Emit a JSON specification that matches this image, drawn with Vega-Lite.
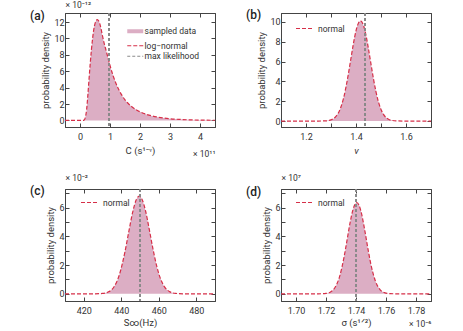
{
  "$schema": "https://vega.github.io/schema/vega-lite/v6.json",
  "background": "white",
  "padding": {"left": 29, "top": 0, "right": 0, "bottom": 0},
  "columns": 2,
  "spacing": {"row": 62, "column": 66},
  "bounds": "flush",
  "resolve": {"scale": {"color": "independent"}, "legend": {"color": "independent"}},
  "config": {
    "font": "Roboto",
    "view": {"stroke": "#444", "strokeWidth": 1},
    "axis": {"grid": false, "domainColor": "#444", "tickColor": "#444", "tickSize": -4, "labelFontSize": 9, "labelColor": "#333", "titleFontSize": 9.5, "titleFontWeight": "normal", "titleColor": "#333", "labelPadding": 9},
    "title": {"anchor": "start", "fontSize": 12, "fontWeight": 500, "color": "#222", "frame": "group"}
  },
  "concat": [
    {
      "width": 150, "height": 114,
      "title": {"text": "(a)", "dx": -35, "dy": 26},
      "data": {"values": [
        {"x": -0.5, "y": 0}, {"x": 0, "y": 0}, {"x": 0.1, "y": 0}, {"x": 0.14, "y": 0.05}, {"x": 0.18, "y": 0.4},
        {"x": 0.22, "y": 1.3}, {"x": 0.26, "y": 3.0}, {"x": 0.30, "y": 5.0}, {"x": 0.34, "y": 6.9}, {"x": 0.38, "y": 8.6},
        {"x": 0.42, "y": 10.0}, {"x": 0.46, "y": 11.1}, {"x": 0.50, "y": 11.8}, {"x": 0.54, "y": 12.2}, {"x": 0.58, "y": 12.3},
        {"x": 0.62, "y": 12.15}, {"x": 0.66, "y": 11.8}, {"x": 0.70, "y": 11.2}, {"x": 0.75, "y": 10.3}, {"x": 0.80, "y": 9.5},
        {"x": 0.85, "y": 8.8}, {"x": 0.90, "y": 8.1}, {"x": 0.95, "y": 7.4}, {"x": 1.0, "y": 6.7}, {"x": 1.1, "y": 5.5},
        {"x": 1.2, "y": 4.5}, {"x": 1.3, "y": 3.7}, {"x": 1.4, "y": 3.05}, {"x": 1.5, "y": 2.5}, {"x": 1.6, "y": 2.1},
        {"x": 1.7, "y": 1.75}, {"x": 1.85, "y": 1.35}, {"x": 2.0, "y": 1.05}, {"x": 2.2, "y": 0.76}, {"x": 2.4, "y": 0.55},
        {"x": 2.6, "y": 0.4}, {"x": 2.8, "y": 0.29}, {"x": 3.0, "y": 0.21}, {"x": 3.3, "y": 0.13}, {"x": 3.6, "y": 0.08},
        {"x": 4.0, "y": 0.04}, {"x": 4.5, "y": 0.02}
      ]},
      "layer": [
        {
          "mark": {"type": "area", "interpolate": "monotone"},
          "encoding": {
            "x": {"field": "x", "type": "quantitative", "scale": {"domain": [-0.5, 4.5], "nice": false, "zero": false},
                  "axis": {"orient": "bottom", "values": [0, 1, 2, 3, 4], "title": "C (s¹⁻ᵛ)", "titlePadding": 4}},
            "y": {"field": "y", "type": "quantitative", "scale": {"domain": [-0.8, 13.1], "nice": false, "zero": false},
                  "axis": {"orient": "left", "values": [0, 2, 4, 6, 8, 10, 12], "title": "probability density", "titlePadding": 3, "labelPadding": 5}},
            "color": {"datum": "sampled data",
                      "scale": {"domain": ["sampled data", "log−normal", "max likelihood"], "range": ["#dcaec4", "#d62f48", "#8a8a8a"]},
                      "legend": {"title": null, "orient": "none", "legendX": 66, "legendY": 14, "symbolType": "stroke", "symbolSize": 256,
                                 "symbolStrokeWidth": {"expr": "datum.value === 'sampled data' ? 4 : 1.1"},
                                 "symbolDash": {"expr": "datum.value === 'sampled data' ? [1, 0] : (datum.value === 'max likelihood' ? [3, 2] : [4, 2])"},
                                 "symbolStrokeColor": {"expr": "datum.value === 'sampled data' ? '#e2b5ca' : (datum.value === 'max likelihood' ? '#666666' : '#d62f48')"},
                                 "labelFontSize": 8.5, "labelOffset": 5, "rowPadding": 1.5, "padding": 0, "labelColor": "#333"}}
          }
        },
        {
          "mark": {"type": "line", "interpolate": "monotone", "strokeDash": [4, 2], "strokeWidth": 1.2},
          "encoding": {
            "x": {"field": "x", "type": "quantitative", "scale": {"domain": [-0.5, 4.5], "nice": false, "zero": false},
                  "axis": {"orient": "top", "labels": false, "values": [0, 1, 2, 3, 4], "title": "× 10⁻¹²", "titleAnchor": "start", "titleAlign": "left", "titlePadding": 3, "titleFontSize": 8.5}},
            "y": {"field": "y", "type": "quantitative", "scale": {"domain": [-0.8, 13.1], "nice": false, "zero": false},
                  "axis": {"orient": "right", "labels": false, "values": [0, 2, 4, 6, 8, 10, 12], "title": "× 10¹¹", "titleAngle": 0, "titleAlign": "right", "titleBaseline": "middle", "titleX": 0, "titleY": 140, "titleFontSize": 8.5}},
            "color": {"datum": "log−normal"}
          }
        },
        {
          "mark": {"type": "rule", "strokeDash": [3, 2], "strokeWidth": 0.8},
          "encoding": {"x": {"datum": 0.97, "type": "quantitative", "axis": null}, "color": {"datum": "max likelihood"}}
        }
      ],
      "resolve": {"axis": {"x": "independent", "y": "independent"}}
    },
    {
      "width": 150, "height": 114,
      "title": {"text": "(b)", "dx": -35, "dy": 13},
      "data": {"values": [
        {"x": 1.1, "y": 0}, {"x": 1.2, "y": 0}, {"x": 1.25, "y": 0.001}, {"x": 1.28, "y": 0.02}, {"x": 1.30, "y": 0.12},
        {"x": 1.31, "y": 0.24}, {"x": 1.32, "y": 0.47}, {"x": 1.33, "y": 0.84}, {"x": 1.34, "y": 1.44}, {"x": 1.35, "y": 2.29},
        {"x": 1.36, "y": 3.44}, {"x": 1.37, "y": 4.83}, {"x": 1.38, "y": 6.36}, {"x": 1.39, "y": 7.86}, {"x": 1.40, "y": 9.10},
        {"x": 1.41, "y": 9.89}, {"x": 1.418, "y": 10.1}, {"x": 1.43, "y": 9.65}, {"x": 1.44, "y": 8.65}, {"x": 1.45, "y": 7.27},
        {"x": 1.46, "y": 5.74}, {"x": 1.47, "y": 4.25}, {"x": 1.48, "y": 2.95}, {"x": 1.49, "y": 1.92}, {"x": 1.50, "y": 1.17},
        {"x": 1.51, "y": 0.67}, {"x": 1.52, "y": 0.36}, {"x": 1.53, "y": 0.18}, {"x": 1.54, "y": 0.086}, {"x": 1.56, "y": 0.016},
        {"x": 1.6, "y": 0}, {"x": 1.7, "y": 0}
      ]},
      "layer": [
        {
          "mark": {"type": "area", "interpolate": "monotone", "color": "#dcaec4"},
          "encoding": {
            "x": {"field": "x", "type": "quantitative", "scale": {"domain": [1.1, 1.7], "nice": false, "zero": false},
                  "axis": {"orient": "bottom", "values": [1.2, 1.3, 1.4, 1.5, 1.6], "labelExpr": "round(datum.value * 10) % 2 == 0 ? format(datum.value, '.1f') : ''", "title": "ν", "titleFontStyle": "italic", "titlePadding": 4}},
            "y": {"field": "y", "type": "quantitative", "scale": {"domain": [-0.6, 10.9], "nice": false, "zero": false},
                  "axis": {"orient": "left", "values": [0, 2, 4, 6, 8, 10], "title": "probability density", "titlePadding": 3, "labelPadding": 5}}
          }
        },
        {
          "mark": {"type": "line", "interpolate": "monotone", "strokeDash": [4, 2], "strokeWidth": 1.2},
          "encoding": {
            "x": {"field": "x", "type": "quantitative", "scale": {"domain": [1.1, 1.7], "nice": false, "zero": false},
                  "axis": {"orient": "top", "labels": false, "values": [1.2, 1.3, 1.4, 1.5, 1.6], "title": null}},
            "y": {"field": "y", "type": "quantitative", "scale": {"domain": [-0.6, 10.9], "nice": false, "zero": false},
                  "axis": {"orient": "right", "labels": false, "values": [0, 2, 4, 6, 8, 10], "title": null}},
            "color": {"datum": "normal", "scale": {"domain": ["normal"], "range": ["#d62f48"]},
                      "legend": {"title": null, "orient": "none", "legendX": 14, "legendY": 6, "symbolType": "stroke", "symbolSize": 289, "symbolDash": [4, 2], "symbolStrokeWidth": 1.2, "symbolStrokeColor": {"expr": "'#d62f48'"}, "labelFontSize": 8.5, "labelOffset": 4, "padding": 0, "labelColor": "#333"}}
          }
        },
        {
          "mark": {"type": "rule", "strokeDash": [3, 2], "strokeWidth": 0.8, "color": "#8a8a8a"},
          "encoding": {"x": {"datum": 1.437, "type": "quantitative", "axis": null}}
        }
      ],
      "resolve": {"axis": {"x": "independent", "y": "independent"}}
    },
    {
      "width": 150, "height": 112,
      "title": {"text": "(c)", "dx": -35, "dy": 28},
      "data": {"values": [
        {"x": 410, "y": 0}, {"x": 425, "y": 0.001}, {"x": 430, "y": 0.026}, {"x": 433, "y": 0.125}, {"x": 436, "y": 0.46},
        {"x": 439, "y": 1.33}, {"x": 442, "y": 2.94}, {"x": 444, "y": 4.31}, {"x": 446, "y": 5.63}, {"x": 448, "y": 6.55},
        {"x": 449.6, "y": 6.8}, {"x": 451, "y": 6.61}, {"x": 453, "y": 5.75}, {"x": 455, "y": 4.45}, {"x": 457, "y": 3.07},
        {"x": 459, "y": 1.89}, {"x": 461, "y": 1.03}, {"x": 463, "y": 0.5}, {"x": 466, "y": 0.137}, {"x": 469, "y": 0.029},
        {"x": 474, "y": 0.001}, {"x": 490, "y": 0}
      ]},
      "layer": [
        {
          "mark": {"type": "area", "interpolate": "monotone", "color": "#dcaec4"},
          "encoding": {
            "x": {"field": "x", "type": "quantitative", "scale": {"domain": [410, 490], "nice": false, "zero": false},
                  "axis": {"orient": "bottom", "values": [420, 440, 460, 480], "title": "S∞(Hz)", "titlePadding": 2}},
            "y": {"field": "y", "type": "quantitative", "scale": {"domain": [-0.5, 7.3], "nice": false, "zero": false},
                  "axis": {"orient": "left", "values": [0, 1, 2, 3, 4, 5, 6, 7], "labelExpr": "datum.value % 2 == 0 ? datum.label : ''", "title": "probability density", "titlePadding": 3, "labelPadding": 5}}
          }
        },
        {
          "mark": {"type": "line", "interpolate": "monotone", "strokeDash": [4, 2], "strokeWidth": 1.2},
          "encoding": {
            "x": {"field": "x", "type": "quantitative", "scale": {"domain": [410, 490], "nice": false, "zero": false},
                  "axis": {"orient": "top", "labels": false, "values": [420, 440, 460, 480], "title": "× 10⁻²", "titleAnchor": "start", "titleAlign": "left", "titlePadding": 6, "titleFontSize": 8.5}},
            "y": {"field": "y", "type": "quantitative", "scale": {"domain": [-0.5, 7.3], "nice": false, "zero": false},
                  "axis": {"orient": "right", "labels": false, "values": [0, 1, 2, 3, 4, 5, 6, 7], "title": null}},
            "color": {"datum": "normal", "scale": {"domain": ["normal"], "range": ["#d62f48"]},
                      "legend": {"title": null, "orient": "none", "legendX": 15, "legendY": 4, "symbolType": "stroke", "symbolSize": 289, "symbolDash": [4, 2], "symbolStrokeWidth": 1.2, "symbolStrokeColor": {"expr": "'#d62f48'"}, "labelFontSize": 8.5, "labelOffset": 4, "padding": 0, "labelColor": "#333"}}
          }
        },
        {
          "mark": {"type": "rule", "strokeDash": [3, 2], "strokeWidth": 0.8, "color": "#8a8a8a"},
          "encoding": {"x": {"datum": 450, "type": "quantitative", "axis": null}}
        }
      ],
      "resolve": {"axis": {"x": "independent", "y": "independent"}}
    },
    {
      "width": 150, "height": 112,
      "title": {"text": "(d)", "dx": -35, "dy": 29},
      "data": {"values": [
        {"x": 1.69, "y": 0}, {"x": 1.71, "y": 0}, {"x": 1.715, "y": 0.002}, {"x": 1.72, "y": 0.03}, {"x": 1.723, "y": 0.13},
        {"x": 1.726, "y": 0.44}, {"x": 1.729, "y": 1.18}, {"x": 1.732, "y": 2.54}, {"x": 1.734, "y": 3.72}, {"x": 1.736, "y": 4.92},
        {"x": 1.738, "y": 5.87}, {"x": 1.7405, "y": 6.36}, {"x": 1.742, "y": 6.18}, {"x": 1.744, "y": 5.44}, {"x": 1.746, "y": 4.33},
        {"x": 1.748, "y": 3.11}, {"x": 1.75, "y": 2.02}, {"x": 1.753, "y": 0.87}, {"x": 1.756, "y": 0.30}, {"x": 1.759, "y": 0.082},
        {"x": 1.763, "y": 0.01}, {"x": 1.768, "y": 0}, {"x": 1.79, "y": 0}
      ]},
      "layer": [
        {
          "mark": {"type": "area", "interpolate": "monotone", "color": "#dcaec4"},
          "encoding": {
            "x": {"field": "x", "type": "quantitative", "scale": {"domain": [1.69, 1.79], "nice": false, "zero": false},
                  "axis": {"orient": "bottom", "values": [1.70, 1.72, 1.74, 1.76, 1.78], "format": ".2f", "title": "σ (s¹ᐟ²)", "titlePadding": 2}},
            "y": {"field": "y", "type": "quantitative", "scale": {"domain": [-0.5, 7.3], "nice": false, "zero": false},
                  "axis": {"orient": "left", "values": [0, 1, 2, 3, 4, 5, 6, 7], "labelExpr": "datum.value % 2 == 0 ? datum.label : ''", "title": "probability density", "titlePadding": 3, "labelPadding": 5}}
          }
        },
        {
          "mark": {"type": "line", "interpolate": "monotone", "strokeDash": [4, 2], "strokeWidth": 1.2},
          "encoding": {
            "x": {"field": "x", "type": "quantitative", "scale": {"domain": [1.69, 1.79], "nice": false, "zero": false},
                  "axis": {"orient": "top", "labels": false, "values": [1.70, 1.72, 1.74, 1.76, 1.78], "title": "× 10⁷", "titleAnchor": "start", "titleAlign": "left", "titlePadding": 6, "titleFontSize": 8.5}},
            "y": {"field": "y", "type": "quantitative", "scale": {"domain": [-0.5, 7.3], "nice": false, "zero": false},
                  "axis": {"orient": "right", "labels": false, "values": [0, 1, 2, 3, 4, 5, 6, 7], "title": "× 10⁻⁶", "titleAngle": 0, "titleAlign": "right", "titleBaseline": "middle", "titleX": 0, "titleY": 134, "titleFontSize": 8.5}},
            "color": {"datum": "normal", "scale": {"domain": ["normal"], "range": ["#d62f48"]},
                      "legend": {"title": null, "orient": "none", "legendX": 14, "legendY": 4, "symbolType": "stroke", "symbolSize": 289, "symbolDash": [4, 2], "symbolStrokeWidth": 1.2, "symbolStrokeColor": {"expr": "'#d62f48'"}, "labelFontSize": 8.5, "labelOffset": 4, "padding": 0, "labelColor": "#333"}}
          }
        },
        {
          "mark": {"type": "rule", "strokeDash": [3, 2], "strokeWidth": 0.8, "color": "#8a8a8a"},
          "encoding": {"x": {"datum": 1.74, "type": "quantitative", "axis": null}}
        }
      ],
      "resolve": {"axis": {"x": "independent", "y": "independent"}}
    }
  ]
}
